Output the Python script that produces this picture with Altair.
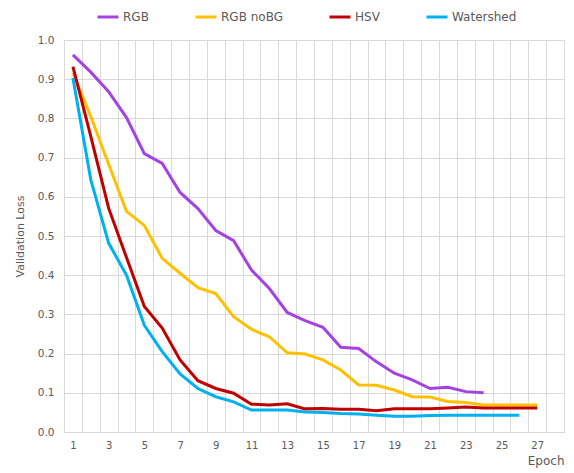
import altair as alt
import pandas as pd

# ---- data ----
epochs_axis = list(range(1, 29))
series_names = ["RGB", "RGB noBG", "HSV", "Watershed"]
series_colors = ["#A543E2", "#FFC000", "#C00000", "#00B0F0"]

rgb = [0.962, 0.918, 0.868, 0.802, 0.710, 0.685, 0.611, 0.570, 0.514, 0.488,
       0.413, 0.366, 0.305, 0.284, 0.267, 0.216, 0.213, 0.179, 0.150, 0.133,
       0.111, 0.114, 0.103, 0.100]
rgb_nobg = [0.916, 0.805, 0.683, 0.563, 0.527, 0.443, 0.405, 0.368, 0.353, 0.294,
            0.262, 0.243, 0.202, 0.199, 0.184, 0.158, 0.120, 0.119, 0.107, 0.090,
            0.089, 0.078, 0.075, 0.069, 0.069, 0.069, 0.069]
hsv = [0.932, 0.754, 0.571, 0.445, 0.320, 0.265, 0.184, 0.131, 0.111, 0.099,
       0.071, 0.069, 0.072, 0.059, 0.060, 0.058, 0.058, 0.054, 0.059, 0.059,
       0.059, 0.061, 0.064, 0.061, 0.061, 0.061, 0.061]
watershed = [0.903, 0.644, 0.482, 0.400, 0.272, 0.205, 0.148, 0.111, 0.090, 0.077,
             0.056, 0.056, 0.056, 0.051, 0.050, 0.047, 0.046, 0.043, 0.040, 0.040,
             0.042, 0.043, 0.043, 0.043, 0.043, 0.043]

y_ticks = [round(0.1 * i, 1) for i in range(11)]

rows = []
for name, vals in zip(series_names, [rgb, rgb_nobg, hsv, watershed]):
    for i, v in enumerate(vals):
        rows.append({"Epoch": i + 1, "Loss": v, "Series": name})
df = pd.DataFrame(rows)

x_grid_values = [e - 0.5 for e in epochs_axis] + [epochs_axis[-1] + 0.5]
x_label_values = [e for e in epochs_axis if e % 2 == 1]

font = "DejaVu Sans"
text_color = "#595959"
grid_color = "#D9D9D9"

chart = alt.Chart(df).mark_line(strokeWidth=3).encode(
    x=alt.X(
        "Epoch:Q",
        scale=alt.Scale(domain=[0.5, 28.5], nice=False, zero=False),
        axis=alt.Axis(
            values=x_grid_values + x_label_values,
            labelExpr="datum.value % 2 == 1 ? format(datum.value, 'd') : ''",
            gridOpacity={"condition": {"test": "datum.value % 1 != 0", "value": 1}, "value": 0},
            gridColor=grid_color,
            ticks=False,
            domain=False,
            labelOverlap=False,
            labelFlush=False,
            labelFont=font,
            labelFontSize=10,
            labelColor=text_color,
            labelPadding=8,
            title="Epoch",
            titleFont=font,
            titleFontSize=12,
            titleFontWeight="normal",
            titleColor=text_color,
            titleAnchor="end",
            titlePadding=5,
        ),
    ),
    y=alt.Y(
        "Loss:Q",
        scale=alt.Scale(domain=[0, 1], nice=False),
        axis=alt.Axis(
            values=y_ticks,
            format=".1f",
            gridColor=grid_color,
            ticks=False,
            domain=False,
            labelFont=font,
            labelFontSize=10.5,
            labelColor=text_color,
            labelPadding=10,
            title="Validation Loss",
            titleFont=font,
            titleFontSize=11,
            titleFontWeight="normal",
            titleColor=text_color,
            titlePadding=12,
        ),
    ),
    color=alt.Color(
        "Series:N",
        scale=alt.Scale(domain=series_names, range=series_colors),
        legend=alt.Legend(
            title=None,
            orient="none",
            direction="horizontal",
            legendX=32,
            legendY=-35,
            symbolType="stroke",
            symbolStrokeWidth=3,
            symbolSize=441,
            labelFont=font,
            labelFontSize=12,
            labelColor=text_color,
            labelOffset=3,
            columnPadding=40,
        ),
    ),
).properties(
    width=500,
    height=392,
    autosize=alt.AutoSizeParams(type="none"),
    padding={"left": 56, "top": 32, "right": 2, "bottom": 38},
).configure_view(
    stroke=grid_color, strokeWidth=1
)

chart.save("out.html", embed_options={"renderer": "svg", "actions": False})
